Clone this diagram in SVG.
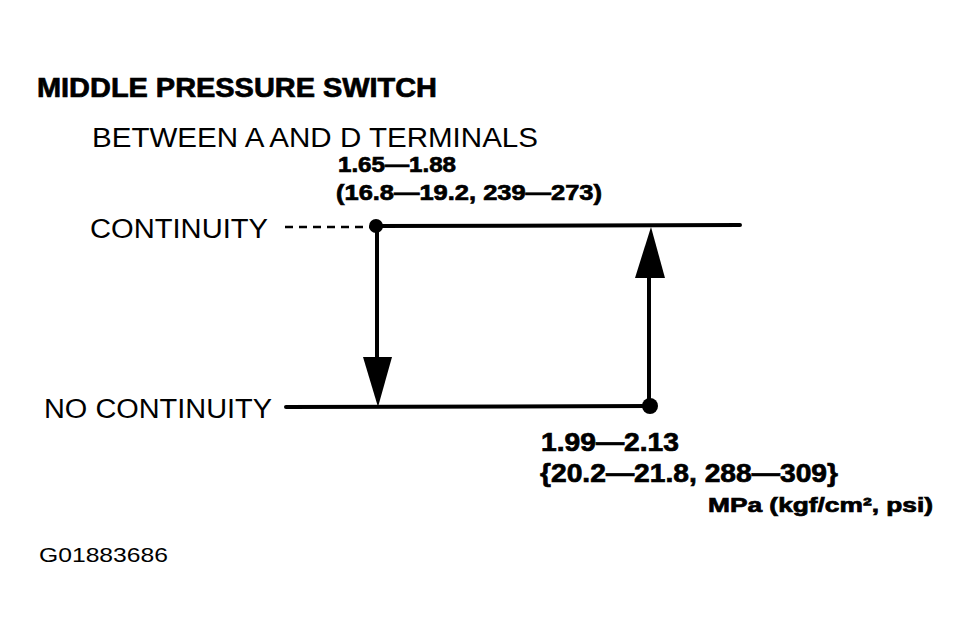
<svg xmlns="http://www.w3.org/2000/svg" width="968" height="639" viewBox="0 0 968 639">
<style>
text{font-family:"Liberation Sans",Arial,sans-serif;fill:#000}
.b{font-weight:bold;stroke:#000;stroke-width:0.7}
.ln{stroke:#000;stroke-width:4;fill:none;stroke-linecap:round}
.dash{stroke:#000;stroke-width:2.5;stroke-dasharray:8,6;fill:none}
.fill{fill:#000}
</style>
<rect width="968" height="639" fill="#fff"/>
<g id="title">
<text class="b" x="37" y="97" font-size="27" textLength="400" lengthAdjust="spacingAndGlyphs">MIDDLE PRESSURE SWITCH</text>
<text x="92" y="147" font-size="28" textLength="446" lengthAdjust="spacingAndGlyphs">BETWEEN A AND D TERMINALS</text>
</g>
<g id="state-continuity">
<text x="90" y="238" font-size="27" textLength="178" lengthAdjust="spacingAndGlyphs">CONTINUITY</text>
</g>
<g id="state-no-continuity">
<text x="44" y="418" font-size="27" textLength="228" lengthAdjust="spacingAndGlyphs">NO CONTINUITY</text>
</g>
<g id="label-off">
<text class="b" x="338" y="172" font-size="22" textLength="118" lengthAdjust="spacingAndGlyphs">1.65—1.88</text>
<text class="b" x="336" y="200" font-size="22" textLength="266" lengthAdjust="spacingAndGlyphs">(16.8—19.2, 239—273)</text>
</g>
<g id="label-on">
<text class="b" x="541" y="451" font-size="26" textLength="138" lengthAdjust="spacingAndGlyphs">1.99—2.13</text>
<text class="b" x="540" y="482" font-size="26" textLength="298" lengthAdjust="spacingAndGlyphs">{20.2—21.8, 288—309}</text>
<text class="b" x="708" y="512" font-size="20" textLength="225" lengthAdjust="spacingAndGlyphs">MPa (kgf/cm², psi)</text>
</g>
<g id="code">
<text x="39" y="562" font-size="21" textLength="129" lengthAdjust="spacingAndGlyphs">G01883686</text>
</g>
<g id="connectors">
<line class="dash" x1="285" y1="227" x2="370" y2="227"/>
<line class="ln" x1="376" y1="226" x2="740" y2="225"/>
<circle class="fill" cx="376" cy="226" r="7"/>
<line class="ln" x1="377" y1="226" x2="377" y2="362"/>
<polygon class="fill" points="363,357 392,357 378,407"/>
<line class="ln" x1="286" y1="407" x2="650" y2="406"/>
<circle class="fill" cx="650" cy="406" r="8"/>
<line class="ln" x1="649" y1="406" x2="649" y2="275"/>
<polygon class="fill" points="635,278 665,278 651,227"/>
</g>
</svg>
